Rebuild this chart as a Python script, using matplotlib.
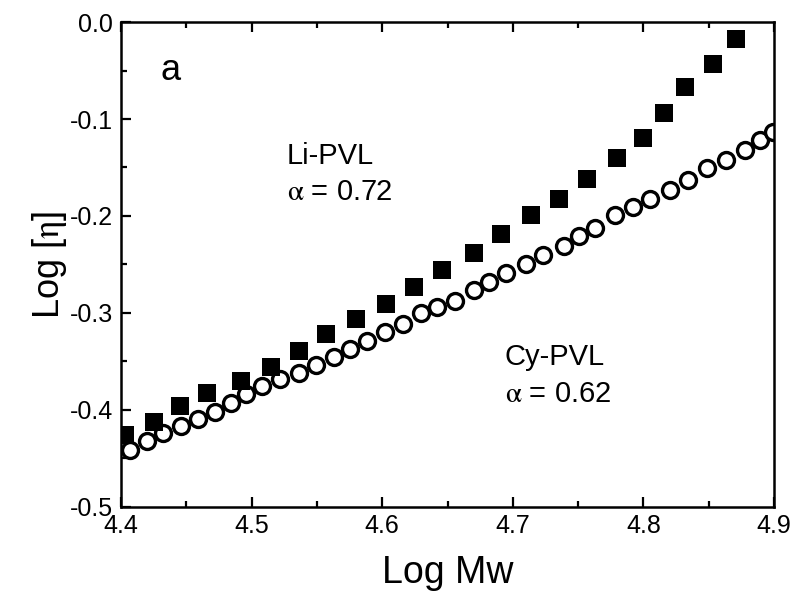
import matplotlib
matplotlib.use("Agg")
import matplotlib.pyplot as plt
from matplotlib.ticker import MultipleLocator

plt.rcParams['font.family'] = ['Liberation Sans', 'DejaVu Sans']
plt.rcParams['mathtext.fontset'] = 'stix'

# Li-PVL (filled squares)
li_x = [4.403, 4.425, 4.445, 4.466, 4.492, 4.515, 4.536, 4.557, 4.580, 4.603,
        4.624, 4.646, 4.670, 4.691, 4.714, 4.735, 4.757, 4.780, 4.800, 4.816,
        4.832, 4.853, 4.871]
li_y = [-0.426, -0.412, -0.396, -0.382, -0.370, -0.356, -0.339, -0.322, -0.306, -0.291,
        -0.273, -0.256, -0.238, -0.219, -0.199, -0.182, -0.162, -0.140, -0.120, -0.094,
        -0.067, -0.043, -0.018]

# Cy-PVL (open circles)
cy_x = [4.407, 4.420, 4.432, 4.446, 4.459, 4.472, 4.484, 4.496, 4.508, 4.522,
        4.536, 4.549, 4.563, 4.575, 4.588, 4.602, 4.616, 4.630, 4.642, 4.656,
        4.670, 4.682, 4.695, 4.710, 4.723, 4.739, 4.751, 4.763, 4.778, 4.792,
        4.805, 4.820, 4.834, 4.849, 4.863, 4.878, 4.889, 4.899]
cy_y = [-0.441, -0.432, -0.424, -0.417, -0.409, -0.402, -0.393, -0.384, -0.375, -0.368,
        -0.362, -0.354, -0.345, -0.337, -0.329, -0.320, -0.311, -0.300, -0.294, -0.288,
        -0.276, -0.268, -0.259, -0.249, -0.240, -0.231, -0.221, -0.212, -0.199, -0.191,
        -0.182, -0.173, -0.163, -0.151, -0.142, -0.132, -0.122, -0.113]

fig = plt.figure(figsize=(7.95, 5.98), dpi=100)
ax = fig.add_axes([0.1522, 0.1522, 0.8214, 0.811])

ax.plot(cy_x, cy_y, linestyle='none', marker='o', ms=11.5, mfc='white',
        mec='black', mew=2.4)
ax.plot(li_x, li_y, linestyle='none', marker='s', ms=12.5, mfc='black',
        mec='black', mew=0)

ax.set_xlim(4.4, 4.9)
ax.set_ylim(-0.5, 0.0)
ax.xaxis.set_major_locator(MultipleLocator(0.1))
ax.xaxis.set_minor_locator(MultipleLocator(0.05))
ax.yaxis.set_major_locator(MultipleLocator(0.1))
ax.yaxis.set_minor_locator(MultipleLocator(0.05))
ax.xaxis.set_major_formatter(plt.FormatStrFormatter('%.1f'))
ax.yaxis.set_major_formatter(plt.FormatStrFormatter('%.1f'))

for s in ax.spines.values():
    s.set_linewidth(1.8)

ax.tick_params(which='both', direction='in', width=1.6, labelsize=18,
               top=True, right=False)
ax.tick_params(which='major', length=7)
ax.tick_params(which='minor', length=4.5)
ax.tick_params(axis='x', pad=5)
ax.tick_params(axis='y', pad=6)

ax.set_xlabel('Log Mw', fontsize=27, labelpad=12)
ax.set_ylabel(r'Log [$\mathrm{\eta}$]', fontsize=26, labelpad=0)

ax.text(4.430, -0.060, 'a', fontsize=26)
ax.text(4.527, -0.146, 'Li-PVL', fontsize=21)
ax.text(4.527, -0.183, r'$\mathrm{\alpha}$ = 0.72', fontsize=21)
ax.text(4.694, -0.354, 'Cy-PVL', fontsize=21)
ax.text(4.694, -0.392, r'$\mathrm{\alpha}$ = 0.62', fontsize=21)

fig.savefig('out.png', dpi=100)
